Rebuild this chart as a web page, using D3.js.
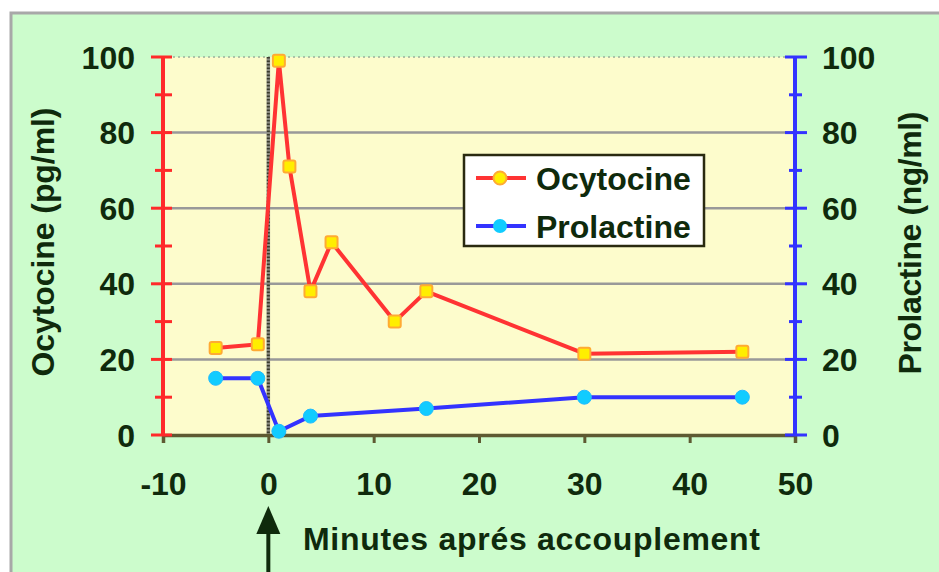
<!DOCTYPE html>
<html>
<head>
<meta charset="utf-8">
<script src="https://cdn.jsdelivr.net/npm/d3@7"></script>
<style>
  html, body { margin: 0; padding: 0; background: #ffffff; }
  svg { display: block; }
  text { font-family: "Liberation Sans", Arial, sans-serif; font-weight: bold; fill: #0f2a0c; }
</style>
</head>
<body>
<svg id="chart" width="939" height="572"></svg>
<script>
// ---- data ----
const ocyX = [-5, -1, 1, 2, 4, 6, 12, 15, 30, 45];
const ocyY = [23, 24, 99, 71, 38, 51, 30, 38, 21.5, 22];
const proX = [-5, -1, 1, 4, 15, 30, 45];
const proY = [15, 15, 1, 5, 7, 10, 10];
const xTicks = [-10, 0, 10, 20, 30, 40, 50];
const yTicks = [0, 20, 40, 60, 80, 100];
const yMinor = [10, 30, 50, 70, 90];
const seriesNames = ["Ocytocine", "Prolactine"];
const xTitle = "Minutes aprés accouplement";
const yLeftTitle = "Ocytocine (pg/ml)";
const yRightTitle = "Prolactine (ng/ml)";

const svg = d3.select("#chart");
const W = 939, H = 572;
const plot = { left: 163, right: 795, top: 57, bottom: 435 };
const FS = "32px";

const x = d3.scaleLinear().domain([-10, 50]).range([plot.left, plot.right]);
const yL = d3.scaleLinear().domain([0, 100]).range([plot.bottom, plot.top]);
const yR = d3.scaleLinear().domain([0, 100]).range([plot.bottom, plot.top]);

// outer frame
svg.append("rect").attr("x", 11).attr("y", 13).attr("width", W).attr("height", H)
  .attr("fill", "#ccfccc").attr("stroke", "#a8a8a8").attr("stroke-width", 3);

// plot area
svg.append("rect").attr("x", plot.left).attr("y", plot.top)
  .attr("width", plot.right - plot.left).attr("height", plot.bottom - plot.top)
  .attr("fill", "#fdfccc");
svg.append("line").attr("x1", plot.left).attr("x2", plot.right)
  .attr("y1", plot.top).attr("y2", plot.top)
  .attr("stroke", "#9ab09a").attr("stroke-width", 1.5).attr("stroke-dasharray", "2,3");

// gridlines
svg.append("g").selectAll("line").data(yTicks.filter(d => d > 0 && d < 100)).join("line")
  .attr("x1", plot.left).attr("x2", plot.right)
  .attr("y1", d => yL(d)).attr("y2", d => yL(d))
  .attr("stroke", "#999999").attr("stroke-width", 2.5);

// vertical dotted line at 0
svg.append("line").attr("x1", x(0)).attr("x2", x(0))
  .attr("y1", plot.top).attr("y2", plot.bottom)
  .attr("stroke", "#8a8a80").attr("stroke-width", 3.5);
svg.append("line").attr("x1", x(0)).attr("x2", x(0))
  .attr("y1", plot.top).attr("y2", plot.bottom)
  .attr("stroke", "#3a3a2a").attr("stroke-width", 3).attr("stroke-dasharray", "1.5,2");

// bottom axis
const xAxis = d3.axisBottom(x).tickValues(xTicks).tickSize(8).tickPadding(29)
  .tickFormat(d => String(d));
const gx = svg.append("g").attr("transform", `translate(0,${plot.bottom})`).call(xAxis);
gx.select(".domain").attr("stroke", "#5e5a32").attr("stroke-width", 3.5);
gx.selectAll(".tick line").attr("stroke", "#5e5a32").attr("stroke-width", 3);
gx.selectAll(".tick text").style("font-size", FS).style("font-family", "Liberation Sans, Arial, sans-serif")
  .style("font-weight", "bold").attr("fill", "#0f2a0c");

// left axis (red)
const gL = svg.append("g").attr("transform", `translate(${plot.left},0)`);
gL.append("line").attr("x1", 0).attr("x2", 0).attr("y1", yL(100)).attr("y2", yL(0))
  .attr("stroke", "#ff2a2a").attr("stroke-width", 4);
gL.selectAll("line.maj").data(yTicks).join("line").attr("class", "maj")
  .attr("x1", -12).attr("x2", 9).attr("y1", d => yL(d)).attr("y2", d => yL(d))
  .attr("stroke", "#ff2a2a").attr("stroke-width", 3);
gL.selectAll("line.min").data(yMinor).join("line").attr("class", "min")
  .attr("x1", -8).attr("x2", 9).attr("y1", d => yL(d)).attr("y2", d => yL(d))
  .attr("stroke", "#ff2a2a").attr("stroke-width", 3);
gL.selectAll("text").data(yTicks).join("text")
  .attr("x", -28).attr("y", d => yL(d)).attr("dy", "0.36em")
  .attr("text-anchor", "end").style("font-size", FS).text(d => d);

// right axis (blue)
const gR = svg.append("g").attr("transform", `translate(${plot.right},0)`);
gR.append("line").attr("x1", 0).attr("x2", 0).attr("y1", yR(100)).attr("y2", yR(0))
  .attr("stroke", "#3333ff").attr("stroke-width", 4);
gR.selectAll("line.maj").data(yTicks).join("line").attr("class", "maj")
  .attr("x1", -10).attr("x2", 12).attr("y1", d => yR(d)).attr("y2", d => yR(d))
  .attr("stroke", "#3333ff").attr("stroke-width", 3);
gR.selectAll("line.min").data(yMinor).join("line").attr("class", "min")
  .attr("x1", -6).attr("x2", 7).attr("y1", d => yR(d)).attr("y2", d => yR(d))
  .attr("stroke", "#3333ff").attr("stroke-width", 3);
gR.selectAll("text").data(yTicks).join("text")
  .attr("x", 27).attr("y", d => yR(d)).attr("dy", "0.36em")
  .attr("text-anchor", "start").style("font-size", FS).text(d => d);

// axis titles
svg.append("text").attr("transform", `translate(54,242) rotate(-90)`)
  .attr("text-anchor", "middle").style("font-size", FS)
  .attr("textLength", 269).attr("lengthAdjust", "spacing").text(yLeftTitle);
svg.append("text").attr("transform", `translate(921,243) rotate(-90)`)
  .attr("text-anchor", "middle").style("font-size", FS)
  .attr("textLength", 263).attr("lengthAdjust", "spacing").text(yRightTitle);
svg.append("text").attr("x", 303).attr("y", 550)
  .attr("text-anchor", "start").style("font-size", FS)
  .attr("textLength", 457).attr("lengthAdjust", "spacing").text(xTitle);

// arrow
svg.append("line").attr("x1", x(0)).attr("x2", x(0)).attr("y1", 528).attr("y2", H)
  .attr("stroke", "#0f2a0c").attr("stroke-width", 4);
svg.append("path").attr("d", `M${x(0)},506 L${x(0) - 12},534 L${x(0) + 12},534 Z`).attr("fill", "#0f2a0c");

// series
const ocy = ocyX.map((v, i) => [v, ocyY[i]]);
const pro = proX.map((v, i) => [v, proY[i]]);
const lineL = d3.line().x(d => x(d[0])).y(d => yL(d[1]));
const lineR = d3.line().x(d => x(d[0])).y(d => yR(d[1]));

svg.append("path").datum(ocy).attr("d", lineL).attr("fill", "none")
  .attr("stroke", "#ff3333").attr("stroke-width", 4).attr("stroke-linejoin", "round");
svg.append("g").selectAll("rect").data(ocy).join("rect")
  .attr("x", d => x(d[0]) - 6).attr("y", d => yL(d[1]) - 6).attr("width", 12).attr("height", 12)
  .attr("rx", 2).attr("fill", "#ffee00").attr("stroke", "#ffaa33").attr("stroke-width", 2);

svg.append("path").datum(pro).attr("d", lineR).attr("fill", "none")
  .attr("stroke", "#3333ff").attr("stroke-width", 4).attr("stroke-linejoin", "round");
svg.append("g").selectAll("circle").data(pro).join("circle")
  .attr("cx", d => x(d[0])).attr("cy", d => yR(d[1])).attr("r", 7)
  .attr("fill", "#11ccff").attr("stroke", "#22bbff").attr("stroke-width", 1);

// legend
const lg = svg.append("g");
lg.append("rect").attr("x", 464).attr("y", 155).attr("width", 240).attr("height", 91)
  .attr("fill", "#ffffff").attr("stroke", "#2a2a10").attr("stroke-width", 2.5);
const legendRows = [
  { name: seriesNames[0], color: "#ff3333", y: 178, len: 155 },
  { name: seriesNames[1], color: "#3333ff", y: 226, len: 155 }
];
legendRows.forEach((r, i) => {
  lg.append("line").attr("x1", 476).attr("x2", 526).attr("y1", r.y).attr("y2", r.y)
    .attr("stroke", r.color).attr("stroke-width", 4);
  if (i === 0) {
    lg.append("circle").attr("cx", 500).attr("cy", r.y).attr("r", 6.5)
      .attr("fill", "#ffee00").attr("stroke", "#ffaa33").attr("stroke-width", 2);
  } else {
    lg.append("circle").attr("cx", 500).attr("cy", r.y).attr("r", 7)
      .attr("fill", "#11ccff");
  }
  lg.append("text").attr("x", 536).attr("y", r.y).attr("dy", "0.36em")
    .style("font-size", FS).text(r.name);
});
</script>
</body>
</html>
